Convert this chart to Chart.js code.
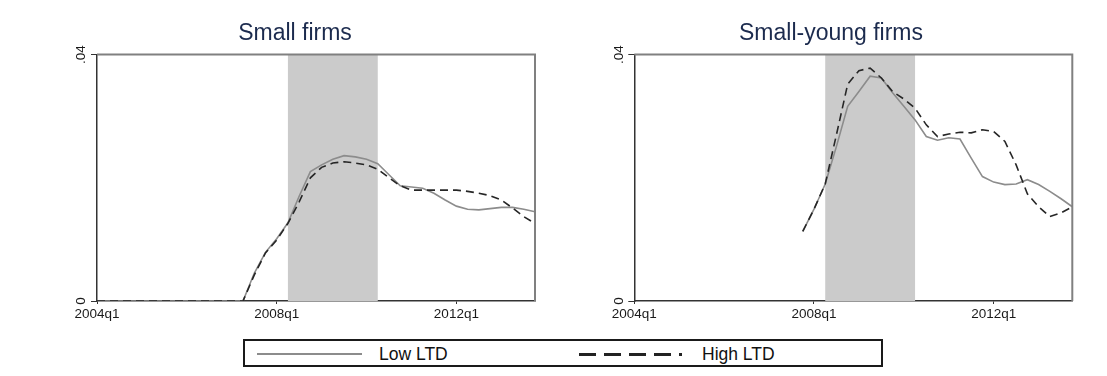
<!DOCTYPE html>
<html>
<head>
<meta charset="utf-8">
<script src="https://cdn.jsdelivr.net/npm/chart.js@4.4.1/dist/chart.umd.min.js"></script>
<style>
  html, body { margin: 0; padding: 0; background: #ffffff; }
  body { width: 1107px; height: 376px; position: relative; overflow: hidden; font-family: "Liberation Sans", Arial, sans-serif; }
  canvas { position: absolute; top: 0; }
  #c1 { left: 0; }
  #c2 { left: 553px; }
  .legend { position: absolute; left: 243px; top: 339px; width: 636px; height: 24px; border: 2px solid #1a1a1a; }
  .swatch { position: absolute; top: 12px; height: 2px; }
  .swatch.low { left: 12px; width: 105px; background: #8c8c8c; }
  .swatch.high { left: 334px; width: 103px; height: 2.5px; background: repeating-linear-gradient(to right, #222 0 16.7px, transparent 16.7px 25px); }
  .lbl { position: absolute; top: 1px; font-size: 17.5px; line-height: 24px; color: #111; }
  .lbl.low { left: 134px; }
  .lbl.high { left: 457px; }
</style>
</head>
<body>
<canvas id="c1" width="553" height="330"></canvas>
<canvas id="c2" width="554" height="330"></canvas>
<div class="legend">
  <div class="swatch low"></div><div class="lbl low">Low LTD</div>
  <div class="swatch high"></div><div class="lbl high">High LTD</div>
</div>
<script>
// Quarters on the horizontal axis
const quarters = [
  '2004q1','2004q2','2004q3','2004q4','2005q1','2005q2','2005q3','2005q4',
  '2006q1','2006q2','2006q3','2006q4','2007q1','2007q2','2007q3','2007q4',
  '2008q1','2008q2','2008q3','2008q4','2009q1','2009q2','2009q3','2009q4',
  '2010q1','2010q2','2010q3','2010q4','2011q1','2011q2','2011q3','2011q4',
  '2012q1','2012q2','2012q3','2012q4','2013q1','2013q2','2013q3','2013q4'
];
const xTickLabels = ['2004q1', '2008q1', '2012q1'];
const yTickValues = [0, 0.04];
const recession = ['2008q2', '2010q2'];

// Small firms
const smallLow = [
  0, 0, 0, 0, 0, 0, 0, 0, 0, 0, 0, 0, 0, 0,
  0.0045, 0.0079, 0.0101, 0.0127, 0.0170, 0.0210, 0.0221, 0.0230, 0.0236, 0.0234,
  0.0230, 0.0223, 0.0205, 0.0187, 0.0185, 0.0183, 0.0175, 0.0164, 0.0154, 0.0149,
  0.0148, 0.0150, 0.0152, 0.0152, 0.0149, 0.0145
];
const smallHigh = [
  0, 0, 0, 0, 0, 0, 0, 0, 0, 0, 0, 0, 0, 0,
  0.0042, 0.0078, 0.0099, 0.0126, 0.0161, 0.0200, 0.0217, 0.0224, 0.0226, 0.0224,
  0.0221, 0.0214, 0.0200, 0.0187, 0.0180, 0.0180, 0.0180, 0.0180, 0.0180, 0.0178,
  0.0175, 0.0171, 0.0164, 0.0151, 0.0137, 0.0126
];

// Small-young firms
const youngLow = [
  null, null, null, null, null, null, null, null, null, null, null, null, null, null, null,
  0.0113, 0.0149, 0.0190, 0.0251, 0.0316, 0.0340, 0.0365, 0.0362, 0.0338,
  0.0316, 0.0294, 0.0267, 0.0261, 0.0265, 0.0263, 0.0232, 0.0202, 0.0193, 0.0189,
  0.0190, 0.0197, 0.0189, 0.0178, 0.0166, 0.0153
];
const youngHigh = [
  null, null, null, null, null, null, null, null, null, null, null, null, null, null, null,
  0.0113, 0.0149, 0.0190, 0.0270, 0.0352, 0.0374, 0.0378, 0.0362, 0.0340,
  0.0328, 0.0313, 0.0286, 0.0267, 0.0271, 0.0274, 0.0273, 0.0278, 0.0275, 0.0259,
  0.0221, 0.0174, 0.0153, 0.0137, 0.0143, 0.0153
];

const FONT = '"Liberation Sans", Arial, sans-serif';

// Shaded recession band behind the lines
const bandPlugin = {
  id: 'band',
  beforeDatasetsDraw(chart) {
    const { ctx, chartArea: { top, bottom }, scales: { x } } = chart;
    const x0 = x.getPixelForValue(quarters.indexOf(recession[0]));
    const x1 = x.getPixelForValue(quarters.indexOf(recession[1]));
    ctx.save();
    ctx.fillStyle = '#cbcbcb';
    ctx.fillRect(x0, top, x1 - x0, bottom - top);
    ctx.restore();
  }
};

// Top and right edges of the plot box
const framePlugin = {
  id: 'frame',
  afterDraw(chart) {
    const { ctx, chartArea: { left, right, top, bottom } } = chart;
    ctx.save();
    ctx.strokeStyle = '#808080';
    ctx.lineWidth = 2;
    ctx.beginPath();
    ctx.moveTo(left, top);
    ctx.lineTo(right, top);
    ctx.lineTo(right, bottom);
    ctx.stroke();
    ctx.restore();
  }
};

const fmtY = v => (v === 0 ? '0' : String(v).replace(/^0/, ''));

function panel(id, title, low, high, pad) {
  return new Chart(document.getElementById(id), {
    type: 'line',
    data: {
      labels: quarters,
      datasets: [
        { label: 'High LTD', data: high, borderColor: '#262626', borderWidth: 1.6,
          borderDash: [8, 5], pointRadius: 0, fill: false, tension: 0 },
        { label: 'Low LTD', data: low, borderColor: '#8c8c8c', borderWidth: 1.6,
          pointRadius: 0, fill: false, tension: 0 }
      ]
    },
    options: {
      responsive: false,
      animation: false,
      devicePixelRatio: 1,
      events: [],
      layout: { padding: { left: pad.left, right: pad.right, top: 0, bottom: 4 } },
      plugins: {
        legend: { display: false },
        tooltip: { enabled: false },
        title: {
          display: true, text: title, color: '#1c2b4e',
          font: { family: FONT, size: 23, weight: 'normal' },
          padding: { top: 20, bottom: 7 }
        }
      },
      scales: {
        x: {
          type: 'category',
          offset: false,
          grid: { display: true, drawOnChartArea: false, drawTicks: true, tickLength: 3, color: '#333' },
          border: { display: true, color: '#333', width: 1.5 },
          ticks: { autoSkip: false, minRotation: 0, maxRotation: 0, padding: 2,
                   color: '#1a1a1a', font: { family: FONT, size: 13.5 } },
          afterBuildTicks: s => { s.ticks = s.ticks.filter(t => xTickLabels.includes(quarters[t.value])); },
          afterFit: s => { s.height = 25; }
        },
        y: {
          type: 'linear',
          min: 0, max: 0.04,
          grid: { display: true, drawOnChartArea: false, drawTicks: true, tickLength: 6, color: '#333' },
          border: { display: true, color: '#333', width: 1.5 },
          ticks: { minRotation: 90, maxRotation: 90, crossAlign: 'center', padding: 0,
                   color: '#1a1a1a', font: { family: FONT, size: 13.5 }, callback: v => fmtY(v) },
          afterBuildTicks: s => { s.ticks = yTickValues.map(v => ({ value: v })); },
          afterFit: s => { s.width = pad.yWidth; }
        }
      }
    },
    plugins: [bandPlugin, framePlugin]
  });
}

panel('c1', 'Small firms', smallLow, smallHigh, { left: 55, right: 18, yWidth: 42 });
panel('c2', 'Small-young firms', youngLow, youngHigh, { left: 36.7, right: 34.7, yWidth: 44.6 });
</script>
</body>
</html>
